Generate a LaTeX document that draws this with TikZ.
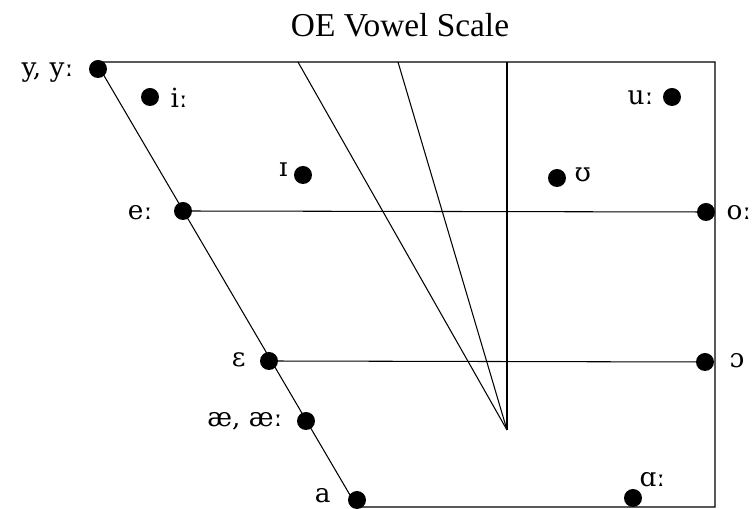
\documentclass[tikz,border=0pt]{standalone}
\usepackage{fontspec}
\setmainfont{Liberation Serif}
\newfontfamily\ipafont{DejaVu Serif}
\usetikzlibrary{positioning}

\begin{document}
\begin{tikzpicture}[x=.02cm,y=-.02cm,line width=.6pt,
    vowel/.style={circle,fill=black,inner sep=0pt,minimum size=.36cm},
    ipa/.style={inner sep=0pt,font=\ipafont\fontsize{15}{18}\selectfont}]
  \useasboundingbox (0,0) rectangle (752,509);
  \node[font=\fontsize{19}{22}\selectfont,anchor=base] (title) at (400,37) {OE Vowel Scale};
  % frame and guide lines
  \coordinate (tl) at (96,62);
  \coordinate (tr) at (715,62);
  \coordinate (br) at (715,507);
  \coordinate (bl) at (357,507);
  \coordinate (t1) at (298,62);
  \coordinate (t2) at (398,62);
  \coordinate (t3) at (507,62);
  \coordinate (tip) at (507,430);
  \draw (tl)--(tr)--(br)--(bl)--cycle;
  \draw (t1)--(tip);
  \draw (t2)--(tip);
  \draw (t3)--(tip);
  % vowels
  \node[vowel] (yy) at (98,69) {};
  \node[vowel] (ii) at (150,97) {};
  \node[vowel] (ih) at (303,175) {};
  \node[vowel] (uh) at (557,178) {};
  \node[vowel] (uu) at (672,97) {};
  \node[vowel] (ee) at (183,211) {};
  \node[vowel] (oo) at (706,212) {};
  \node[vowel] (eh) at (269,361) {};
  \node[vowel] (aw) at (705,362) {};
  \node[vowel] (ae) at (306,421) {};
  \node[vowel] (a) at (357,500) {};
  \node[vowel] (aa) at (633,498) {};
  \draw (ee.center)--(oo.center);
  \draw (eh.center)--(aw.center);
  % labels
  \node[ipa,anchor=base east] (yyl) at (74,77) {y, yː};
  \node[ipa,anchor=base west] (iil) at (170,108) {iː};
  \node[ipa,anchor=base east] (ihl) at (288,177) {ɪ};
  \node[ipa,anchor=base west] (uhl) at (574,182) {ʊ};
  \node[ipa,anchor=base east] (uul) at (654,105) {uː};
  \node[ipa,anchor=base east] (eel) at (153,220) {eː};
  \node[ipa,anchor=base west] (ool) at (726,220) {oː};
  \node[ipa,anchor=base east] (ehl) at (246,367) {ɛ};
  \node[ipa,anchor=base west] (awl) at (729,368) {ɔ};
  \node[ipa,anchor=base east] (ael) at (283,427) {æ, æː};
  \node[ipa,anchor=base east] (al) at (331,503) {a};
  \node[ipa,anchor=base west] (aal) at (639,487) {ɑː};
\end{tikzpicture}
\end{document}
